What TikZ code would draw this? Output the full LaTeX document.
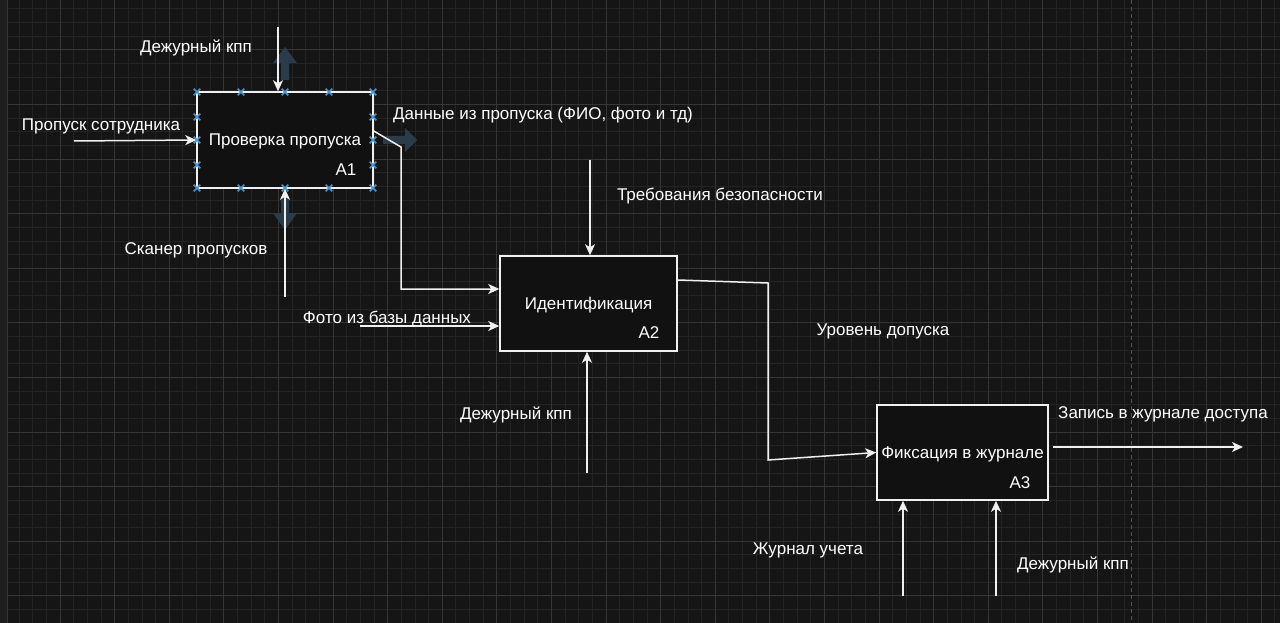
\documentclass[tikz,border=0pt]{standalone}
\usepackage{fontspec}
\setmainfont{Liberation Sans}
\usetikzlibrary{arrows.meta,shapes.misc}

\definecolor{bgdark}{RGB}{21,21,21}
\definecolor{boxfill}{RGB}{17,17,17}
\definecolor{minorline}{RGB}{35,35,35}
\definecolor{majorline}{RGB}{54,54,54}
\definecolor{stripgray}{RGB}{30,30,30}
\definecolor{linewhite}{RGB}{240,240,240}
\definecolor{handleblue}{RGB}{70,150,205}
\definecolor{hoverblue}{RGB}{42,60,74}
\definecolor{pagedash}{RGB}{85,85,85}

\tikzset{
  box/.style={draw=linewhite, line width=1.5pt, fill=boxfill, text=white,
    minimum width=176pt, minimum height=96pt, inner sep=0pt, text depth=0pt},
  lbl/.style={text=white, inner sep=0pt, yshift=-1.5pt},
  flow/.style={draw=linewhite, line width=1.5pt,
    -{Stealth[length=11pt,width=10pt,inset=3pt]}},
  handle/.style={cross out, draw=handleblue, line width=1.6pt,
    minimum size=5pt, inner sep=0pt},
  hover/.style={fill=hoverblue, draw=none},
  minorgrid/.style={draw=minorline, line width=0.8pt},
  majorgrid/.style={draw=majorline, line width=0.9pt}
}

\begin{document}
\begin{tikzpicture}[x=1pt,y=-1pt,font=\fontsize{17}{20}\selectfont]
\useasboundingbox (0,0) rectangle (1280,623);
\fill[bgdark] (0,0) rectangle (1280,623);

% canvas grid
\foreach \i in {0,...,93}
  \draw[minorgrid] ({5.4+13.65*\i},0) -- ++(0,623);
\foreach \j in {0,...,45}
  \draw[minorgrid] (0,{8.85+13.65*\j}) -- ++(1280,0);
\foreach \i in {0,...,23}
  \draw[majorgrid] ({5.4+54.6*\i},0) -- ++(0,623);
\foreach \j in {0,...,11}
  \draw[majorgrid] (0,{-4.8+54.6*\j}) -- ++(1280,0);
\fill[stripgray] (0,0) rectangle (7,623);
\draw[majorline] (7,0) -- (7,623);
\draw[pagedash, line width=1pt, dash pattern=on 4pt off 3pt] (1131,0) -- (1131,623);

% hover arrows round the selected block
\fill[hover] (285,47) -- (297,63) -- (289,63) -- (289,80) -- (281,80) -- (281,63) -- (273,63) -- cycle;
\fill[hover] (285,230) -- (297,213) -- (289,213) -- (289,196) -- (281,196) -- (281,213) -- (273,213) -- cycle;
\fill[hover] (417,140) -- (405,128) -- (405,136) -- (383,136) -- (383,144) -- (405,144) -- (405,152) -- cycle;

% blocks
\node[box] (a1) at (285,140) {Проверка пропуска};
\node[box, minimum width=177pt, minimum height=95pt] (a2) at (588.5,303.5) {Идентификация};
\node[box, minimum width=171pt, minimum height=95pt] (a3) at (962.5,452.5) {Фиксация в журнале};
\node[lbl] (n1) at (346,168) {A1};
\node[lbl] (n2) at (649,331) {A2};
\node[lbl] (n3) at (1020,481) {A3};

% selection handles
\foreach \x in {197,241,285,329,373} {
  \node[handle] at (\x,92) {};
  \node[handle] at (\x,188) {};
}
\foreach \y in {117,140,165} {
  \node[handle] at (197,\y) {};
  \node[handle] at (373,\y) {};
}

% free ends
\coordinate (c1) at (278,27);
\coordinate (i1) at (74,141);
\coordinate (m1) at (285,297);
\coordinate (k1) at (401,147);
\coordinate (k2) at (401,289);
\coordinate (c2) at (590,160);
\coordinate (i2) at (360,326);
\coordinate (m2) at (587,473);
\coordinate (k3) at (768,283);
\coordinate (k4) at (768,460);
\coordinate (o1) at (1053,447);
\coordinate (o2) at (1243,447);
\coordinate (m3) at (903,596);
\coordinate (m4) at (996,596);

% connectors
\draw[flow] (c1) -- (c1 |- a1.north);
\draw[flow] (i1) -- (a1.west);
\draw[flow] (m1) -- (a1.south);
\draw[flow] ([yshift=9pt]a1.east) -- (k1) -- (k2) -- (k2 -| a2.west);
\draw[flow] (c2) -- (c2 |- a2.north);
\draw[flow] (i2) -- (i2 -| a2.west);
\draw[flow] (m2) -- (m2 |- a2.south);
\draw[flow] ([yshift=23.5pt]a2.east) -- (k3) -- (k4) -- (a3.west);
\draw[flow] (o1) -- (o2);
\draw[flow] (m3) -- (m3 |- a3.south);
\draw[flow] (m4) -- (m4 |- a3.south);

% labels
\node[lbl] (t1) at (196,46) {Дежурный кпп};
\node[lbl] (t2) at (101,125) {Пропуск сотрудника};
\node[lbl] (t3) at (196,249) {Сканер пропусков};
\node[lbl] (t4) at (543,114) {Данные из пропуска (ФИО, фото и тд)};
\node[lbl] (t5) at (720,195) {Требования безопасности};
\node[lbl] (t6) at (387,317) {Фото из базы данных};
\node[lbl] (t7) at (516,413) {Дежурный кпп};
\node[lbl] (t8) at (883,330) {Уровень допуска};
\node[lbl] (t9) at (1163,413) {Запись в журнале доступа};
\node[lbl] (t10) at (808,549) {Журнал учета};
\node[lbl] (t11) at (1073,563) {Дежурный кпп};
\end{tikzpicture}
\end{document}
